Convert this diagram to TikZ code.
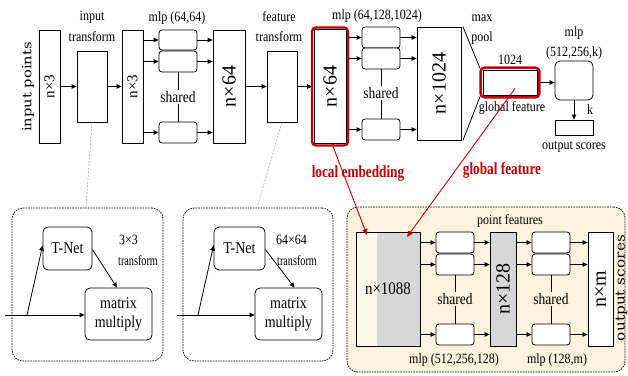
\documentclass[tikz,border=0pt]{standalone}
\usepackage{fontspec}
\setmainfont{Liberation Serif}
\newfontfamily\dvs{DejaVu Serif}
\usepackage{graphicx}
\usetikzlibrary{arrows.meta}
\definecolor{dred}{RGB}{192,0,0}
\definecolor{segfill}{RGB}{252,243,222}
\definecolor{lgrey}{RGB}{215,215,215}
\definecolor{lcream}{RGB}{255,249,236}
\tikzset{
  box/.style={draw,line width=0.8pt,inner sep=0pt,fill=white},
  rbox/.style={box,rounded corners=3pt},
  dbox/.style={draw,line width=0.7pt,dash pattern=on 1.6pt off 1pt,rounded corners=11pt,inner sep=0pt},
  arr/.style={-{Triangle[length=5pt,width=4.5pt]},line width=0.8pt},
  rarr/.style={-{Triangle[length=6pt,width=5pt]},line width=0.9pt,draw=dred,color=dred},
  plain/.style={line width=0.8pt},
  gdash/.style={draw=gray!70,line width=0.6pt,dash pattern=on 2pt off 1.5pt},
  redframe/.style={draw=dred,line width=2.4pt,rounded corners=4pt},
  lbl/.style={inner sep=0pt,font=\fontsize{12}{13}\selectfont},
  shr/.style={inner sep=1pt,font=\fontsize{13.5}{14}\selectfont},
  redlbl/.style={inner sep=0pt,text=dred,font=\bfseries\fontsize{17}{18}\selectfont},
}
\newcommand{\rt}[2]{\rotatebox{90}{\fontsize{#1}{#1}\selectfont #2}}
\newcommand{\vs}[1]{\scalebox{1}[1.18]{#1}}
\newcommand{\longtxt}[3]{\rotatebox{90}{\scalebox{#2}[1]{\dvs\fontsize{#1}{#1}\selectfont #3}}}
\begin{document}
\begin{tikzpicture}[x=1pt,y=-1pt]
\useasboundingbox (0,0) rectangle (628,375);
% ---------- top row ----------
\node[inner sep=0pt] (ip) at (28,87) {\longtxt{12.5}{1.18}{input points}};
\node[box,minimum width=21pt,minimum height=113pt] (b1) at (49.5,86.5) {\rt{15}{n×3}};
\node[box,minimum width=30pt,minimum height=71pt] (it) at (92,86.5) {};
\node[lbl] (itl1) at (92,17) {\vs{input}};
\node[lbl] (itl2) at (92,37) {\vs{transform}};
\node[box,minimum width=21pt,minimum height=113pt] (b2) at (132.5,86.5) {\rt{15}{n×3}};
\node[rbox,minimum width=38pt,minimum height=20pt] (m1a) at (178,40) {};
\node[rbox,minimum width=38pt,minimum height=21pt] (m1b) at (178,61.5) {};
\node[rbox,minimum width=38pt,minimum height=21pt] (m1c) at (178,132.5) {};
\node[lbl] (m1l) at (177,18) {\vs{mlp (64,64)}};
\node[shr] (s1) at (178,97) {\vs{shared}};
\node[box,minimum width=32pt,minimum height=113pt] (b3) at (229,86.5) {\rt{20}{n×64}};
\node[box,minimum width=30pt,minimum height=71pt] (ft) at (282,86.5) {};
\node[lbl] (ftl1) at (279,17) {\vs{feature}};
\node[lbl] (ftl2) at (279,37) {\vs{transform}};
\node[box,minimum width=32pt,minimum height=114pt] (b4) at (330,86.5) {\rt{20}{n×64}};
\draw[redframe] ([shift={(-1.6,-1.6)}]b4.north west) rectangle ([shift={(1.6,1.6)}]b4.south east);
\node[rbox,minimum width=38pt,minimum height=21pt] (m2a) at (381,37.5) {};
\node[rbox,minimum width=38pt,minimum height=21pt] (m2b) at (381,58.5) {};
\node[rbox,minimum width=38pt,minimum height=21pt] (m2c) at (381,129.5) {};
\node[lbl] (m2l) at (377,16) {\vs{mlp (64,128,1024)}};
\node[shr] (s2) at (381,93) {\vs{shared}};
\node[box,minimum width=44pt,minimum height=113pt] (b5) at (439,83.5) {\rt{20}{n×1024}};
\node[box,minimum width=54pt,minimum height=25pt] (gf) at (510,82.5) {};
\draw[redframe] ([shift={(-2,-2)}]gf.north west) rectangle ([shift={(2,2)}]gf.south east);
\draw[plain] ([xshift=1.5pt]b5.north east) -- ([shift={(-2.5,-1)}]gf.north west);
\draw[plain] ([xshift=1.5pt]b5.south east) -- ([shift={(-2.5,1)}]gf.south west);
\node[lbl] (mx) at (482,18) {\vs{max}};
\node[lbl] (pl) at (482,38) {\vs{pool}};
\node[lbl] (n1024) at (510,60) {\vs{1024}};
\node[lbl] (gfl) at (512,108) {\vs{global feature}};
\node[rbox,rounded corners=5pt,minimum width=38pt,minimum height=39pt] (m3) at (574,80.5) {};
\node[lbl] (m3l1) at (574,33) {\vs{mlp}};
\node[lbl] (m3l2) at (574,53) {\vs{(512,256,k)}};
\node[box,minimum width=38pt,minimum height=15pt] (out) at (574,127.5) {};
\node[lbl] (kl) at (590,110) {\vs{k}};
\node[lbl] (outl) at (574,147) {\vs{output scores}};
% top arrows
\draw[arr] (b1.east) -- (it.west);
\draw[arr] (it.east) -- (b2.west);
\foreach \m in {m1a,m1b,m1c}{
  \draw[arr] (b2.east |- \m.west) -- (\m.west);
  \draw[arr] (\m.east) -- (b3.west |- \m.east);
}
\draw[plain] (m1b.south) -- (s1.north);
\draw[plain] (s1.south) -- (m1c.north);
\draw[arr] (b3.east |- ft.west) -- (ft.west);
\draw[arr] (ft.east) -- ([xshift=-1.5pt]b4.west);
\foreach \m in {m2a,m2b,m2c}{
  \draw[arr] ([xshift=1.5pt]b4.east |- \m.west) -- (\m.west);
  \draw[arr] (\m.east) -- (b5.west |- \m.east);
}
\draw[plain] (m2b.south) -- (s2.north);
\draw[plain] (s2.south) -- (m2c.north);
\draw[arr] ([xshift=2.2pt]gf.east) -- (m3.west |- gf.east);
\draw[arr] (m3.south) -- (out.north);
% red labels
\node[redlbl] (le) at (358,173) {\scalebox{0.78}[1]{local embedding}};
\node[redlbl] (gfr) at (502,170) {\scalebox{0.78}[1]{global feature}};
% ---------- bottom left ----------
\node[dbox,minimum width=151pt,minimum height=153pt] (d1) at (87.5,284.5) {};
\node[dbox,minimum width=150pt,minimum height=153pt] (d2) at (258,284.5) {};
\draw[gdash] (it.south) -- ([xshift=-1.5pt]d1.north);
\draw[gdash] (ft.south) -- ([xshift=-1pt]d2.north);
\tikzset{tn/.style={rbox,rounded corners=5pt,font=\fontsize{14}{19}\selectfont}}
\node[tn,minimum width=49pt,minimum height=43pt] (tn1) at (67.5,248.5) {\vs{T-Net}};
\node[tn,minimum width=67pt,minimum height=52pt,align=center] (mm1) at (118.5,314) {\vs{matrix}\\\vs{multiply}};
\node[lbl,anchor=west] (t1a) at (119,240) {\vs{3×3}};
\node[lbl,anchor=west] (t1b) at (118,261) {\vs{\scalebox{0.85}[1]{transform}}};
\coordinate (in1) at (5,315);
\coordinate (br1) at (27,315);
\draw[arr] (in1) -- (mm1.west |- in1);
\draw[arr] (br1) -- ([yshift=3pt]tn1.west);
\draw[arr] ([yshift=-1pt]tn1.east) -- ([xshift=-1.5pt]mm1.north);
\node[tn,minimum width=51pt,minimum height=43pt] (tn2) at (239.5,248.5) {\vs{T-Net}};
\node[tn,minimum width=67pt,minimum height=52pt,align=center] (mm2) at (288.5,314) {\vs{matrix}\\\vs{multiply}};
\node[lbl,anchor=west] (t2a) at (276,240) {\vs{64×64}};
\node[lbl,anchor=west] (t2b) at (277,261) {\vs{\scalebox{0.85}[1]{transform}}};
\coordinate (in2) at (177,315);
\coordinate (br2) at (198,315);
\draw[arr] (in2) -- (mm2.west |- in2);
\draw[arr] (br2) -- ([yshift=3pt]tn2.west);
\draw[arr] ([yshift=-1pt]tn2.east) -- ([xshift=6pt]mm2.north);
% ---------- bottom right ----------
\node[dbox,fill=segfill,minimum width=278pt,minimum height=165pt] (seg) at (486,289.5) {};
\node[box,fill=lgrey,minimum width=64pt,minimum height=114pt,
  path picture={\fill[lcream] (path picture bounding box.north west) rectangle ([xshift=21pt]path picture bounding box.south west);},
  font=\fontsize{15}{15}\selectfont] (cat) at (388,289) {\vs{n×1088}};
\node[lbl] (pf) at (510,221) {\vs{point features}};
\node[rbox,minimum width=38pt,minimum height=21pt] (m4a) at (455,242.5) {};
\node[rbox,minimum width=38pt,minimum height=21pt] (m4b) at (455,264.5) {};
\node[rbox,minimum width=38pt,minimum height=21pt] (m4c) at (455,334.5) {};
\node[shr,fill=segfill] (s4) at (455,299) {\vs{shared}};
\node[box,fill=lgrey,minimum width=26pt,minimum height=114pt] (b6) at (503,289) {\rt{20}{n×128}};
\node[rbox,minimum width=38pt,minimum height=21pt] (m5a) at (551,242.5) {};
\node[rbox,minimum width=38pt,minimum height=21pt] (m5b) at (551,264.5) {};
\node[rbox,minimum width=38pt,minimum height=21pt] (m5c) at (551,334.5) {};
\node[shr,fill=segfill] (s5) at (551,299) {\vs{shared}};
\node[box,minimum width=25pt,minimum height=114pt] (b7) at (600.5,289) {\rt{20}{n×m}};
\node[inner sep=0pt] (osl) at (621.5,288) {\longtxt{13}{1.18}{output scores}};
\node[lbl] (m4l) at (454,360) {\vs{mlp (512,256,128)}};
\node[lbl] (m5l) at (557,360) {\vs{mlp (128,m)}};
\foreach \m in {m4a,m4b,m4c}{
  \draw[arr] (cat.east |- \m.west) -- (\m.west);
  \draw[arr] (\m.east) -- (b6.west |- \m.east);
}
\foreach \m in {m5a,m5b,m5c}{
  \draw[arr] (b6.east |- \m.west) -- (\m.west);
  \draw[arr] (\m.east) -- (b7.west |- \m.east);
}
\draw[plain] (m4b.south) -- (s4.north);
\draw[plain] (s4.south) -- (m4c.north);
\draw[plain] (m5b.south) -- (s5.north);
\draw[plain] (s5.south) -- (m5c.north);
% red connectors
\coordinate (t1) at (367,235);
\coordinate (t2) at (407,237);
\draw[rarr] ([xshift=2pt]b4.south) -- (t1);
\draw[rarr] ([shift={(5,6)}]gf.center) -- (t2);
\end{tikzpicture}
\end{document}
